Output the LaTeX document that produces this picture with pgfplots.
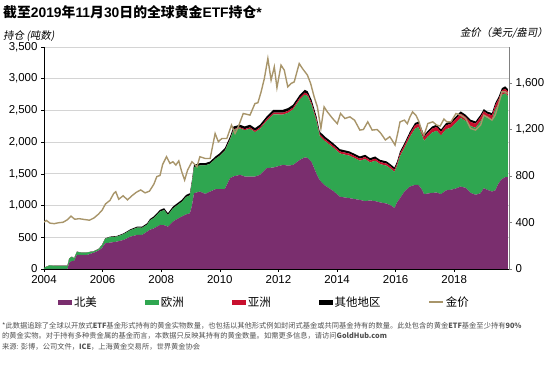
\documentclass[border=0pt]{standalone}
\usepackage{pgfplots}
\pgfplotsset{compat=1.18}
\usepackage{pgfplotstable}
\usepackage{fontspec}
\setmainfont{Liberation Sans}
\newfontfamily\cjk{Noto Sans CJK SC}
\newfontfamily\cjki[FakeSlant=0.2]{Noto Sans CJK SC}
\definecolor{naC}{HTML}{7A2E6E}
\definecolor{euC}{HTML}{2FA650}
\definecolor{asC}{HTML}{C8102E}
\definecolor{otC}{HTML}{000000}
\definecolor{goldC}{HTML}{A8956A}
\definecolor{gridC}{HTML}{D4D4D4}
\definecolor{noteC}{HTML}{505050}

\pgfplotstableread{
year NA EU AS OT
2004.00 0 20 0 2
2004.20 0 58 0 2
2004.35 0 50 0 2
2004.80 0 50 0 2
2004.86 100 63 0 2
2004.95 126 66 0 3
2005.03 130 37 0 3
2005.12 221 50 0 3
2005.30 221 36 0 3
2005.46 221 39 0 3
2005.69 255 22 0 3
2005.86 290 22 0 4
2005.98 330 44 0 5
2006.09 405 72 0 7
2006.26 416 87 0 8
2006.49 432 79 0 10
2006.72 458 93 0 12
2006.95 511 101 0 14
2007.18 537 115 0 16
2007.35 537 113 0 18
2007.52 589 112 0 20
2007.62 620 148 0 22
2007.75 640 165 0 25
2007.96 695 209 0 28
2008.10 690 240 0 28
2008.23 668 183 0 28
2008.40 747 207 0 30
2008.55 790 217 0 30
2008.70 826 231 0 32
2008.85 860 276 0 32
2008.98 879 284 0 32
2009.05 1000 366 0 34
2009.12 1195 412 0 35
2009.32 1221 412 0 35
2009.50 1184 449 0 35
2009.67 1221 439 0 35
2009.85 1258 480 0 36
2010.00 1258 528 2 38
2010.17 1258 603 4 40
2010.35 1432 609 8 40
2010.47 1460 733 12 42
2010.69 1484 733 15 42
2010.85 1458 729 18 42
2011.03 1458 754 20 42
2011.20 1458 699 22 42
2011.37 1484 724 24 42
2011.60 1590 745 26 44
2011.83 1600 837 28 45
2012.16 1642 793 30 45
2012.33 1630 832 30 45
2012.50 1640 875 30 45
2012.73 1720 950 32 45
2012.90 1760 989 32 45
2013.00 1750 973 32 45
2013.13 1690 901 32 45
2013.30 1500 828 32 45
2013.41 1400 694 32 42
2013.58 1320 698 32 40
2013.87 1230 684 32 38
2014.10 1140 681 32 36
2014.43 1116 670 32 35
2014.78 1089 618 32 35
2014.96 1070 663 32 35
2015.13 1080 600 32 35
2015.30 1070 637 32 35
2015.47 1050 604 32 35
2015.70 1030 597 34 34
2015.85 1000 574 34 34
2015.96 960 572 34 34
2016.05 1050 575 36 34
2016.15 1116 663 40 34
2016.30 1220 685 45 34
2016.49 1300 783 50 35
2016.66 1326 884 55 35
2016.78 1326 910 55 35
2016.90 1250 860 55 35
2016.97 1180 840 55 35
2017.10 1190 897 58 35
2017.25 1200 952 60 35
2017.40 1205 974 60 35
2017.55 1180 925 60 35
2017.72 1240 963 62 35
2017.89 1250 979 62 35
2018.06 1270 1035 65 35
2018.22 1300 1084 65 35
2018.39 1280 1052 65 35
2018.56 1200 1053 65 35
2018.73 1170 1056 65 35
2018.90 1195 1137 65 35
2019.01 1274 1147 65 35
2019.12 1250 1134 65 35
2019.29 1221 1137 65 35
2019.40 1240 1273 68 35
2019.52 1353 1260 70 38
2019.63 1420 1323 72 38
2019.74 1447 1322 72 38
2019.83 1447 1280 72 38
}\etfdata

\pgfplotstableread{
year price
2004.00 404
2004.08 418
2004.20 395
2004.35 390
2004.50 398
2004.65 402
2004.80 424
2004.92 455
2005.05 428
2005.20 433
2005.40 425
2005.55 420
2005.70 438
2005.85 470
2005.98 505
2006.10 560
2006.25 590
2006.38 650
2006.45 665
2006.55 600
2006.70 630
2006.85 595
2007.00 630
2007.15 660
2007.30 680
2007.45 655
2007.60 670
2007.75 730
2007.85 795
2007.96 805
2008.05 900
2008.18 966
2008.30 908
2008.40 923
2008.50 894
2008.60 930
2008.70 837
2008.80 765
2008.90 851
2009.05 923
2009.22 880
2009.32 966
2009.50 951
2009.67 951
2009.84 1166
2009.95 1095
2010.07 1123
2010.24 1123
2010.40 1238
2010.52 1166
2010.63 1223
2010.80 1338
2011.03 1324
2011.20 1424
2011.30 1430
2011.41 1524
2011.52 1639
2011.64 1811
2011.75 1625
2011.86 1739
2011.95 1560
2012.09 1754
2012.20 1711
2012.32 1567
2012.43 1596
2012.54 1610
2012.71 1768
2012.82 1725
2012.99 1668
2013.10 1596
2013.22 1481
2013.33 1395
2013.45 1210
2013.56 1395
2013.67 1352
2013.85 1295
2014.01 1250
2014.12 1338
2014.27 1295
2014.44 1309
2014.60 1280
2014.78 1195
2014.90 1200
2015.05 1266
2015.20 1195
2015.37 1200
2015.50 1166
2015.65 1110
2015.80 1138
2015.90 1100
2015.98 1066
2016.07 1166
2016.15 1266
2016.30 1281
2016.40 1250
2016.49 1309
2016.58 1352
2016.70 1320
2016.80 1266
2016.90 1180
2016.97 1152
2017.10 1252
2017.27 1266
2017.40 1238
2017.52 1230
2017.65 1290
2017.75 1266
2017.89 1266
2018.06 1338
2018.22 1324
2018.39 1295
2018.56 1209
2018.73 1195
2018.90 1238
2019.01 1324
2019.12 1309
2019.29 1281
2019.40 1324
2019.52 1424
2019.63 1524
2019.74 1524
2019.83 1510
}\golddata

\newcommand{\B}[1]{{\bfseries #1}}
\newcommand{\C}[1]{{\cjk\bfseries #1}}

\begin{document}
\begin{tikzpicture}
\useasboundingbox (0bp,0bp) rectangle (550bp,367bp);
% title
\node[anchor=base west,inner sep=0pt,font=\fontsize{13.9}{15}\selectfont] at (3bp,349bp)
  {\C{截至}\B{2019}\C{年}\B{11}\C{月}\B{30}\C{日的全球黄金}\B{ETF}\C{持仓}\B{*}};
\node[anchor=base west,inner sep=0pt,font=\fontsize{10.5}{12}\selectfont\cjki] at (3bp,327.5bp) {持仓 (吨数)};
\node[anchor=base east,inner sep=0pt,font=\fontsize{10.5}{12}\selectfont\cjki] at (548bp,330bp) {金价（美元/盎司）};

\begin{axis}[
  at={(44bp,98bp)}, anchor=south west,
  scale only axis, width=465bp, height=222bp,
  xmin=2004, xmax=2019.87,
  ymin=0, ymax=3500,
  stack plots=y,
  axis x line*=bottom, axis y line*=left,
  xtick={2004,2006,...,2018},
  ytick={0,500,...,3500},
  ymajorgrids, grid style={gridC, line width=0.8pt},
  tick align=outside, major tick length=3bp,
  tick style={black, line width=0.6pt},
  axis line style={black, line width=0.8pt, -},
  xticklabel style={font=\fontsize{11.5}{12}\selectfont},
  yticklabel style={font=\fontsize{11.5}{12}\selectfont},
  x tick label style={/pgf/number format/1000 sep={}},
  y tick label style={/pgf/number format/1000 sep={,}},
  /pgf/number format/assume math mode=true,
]
\addplot[fill=naC, draw=none] table[x=year,y=NA]{\etfdata} \closedcycle;
\addplot[fill=euC, draw=none] table[x=year,y=EU]{\etfdata} \closedcycle;
\addplot[fill=asC, draw=none] table[x=year,y=AS]{\etfdata} \closedcycle;
\addplot[fill=otC, draw=none] table[x=year,y=OT]{\etfdata} \closedcycle;
\end{axis}

\begin{axis}[
  at={(44bp,98bp)}, anchor=south west,
  scale only axis, width=465bp, height=222bp,
  xmin=2004, xmax=2019.87,
  ymin=0, ymax=1910,
  axis x line=none, axis y line*=right,
  ytick={0,400,...,1600},
  tick align=outside, major tick length=3bp,
  tick style={gray, line width=0.6pt},
  axis line style={gray, line width=0.8pt, -},
  yticklabel style={font=\fontsize{11.5}{12}\selectfont},
  y tick label style={/pgf/number format/1000 sep={,}},
  /pgf/number format/assume math mode=true,
  legend columns=5,
  legend style={at={(0.474,-0.149)}, anchor=center, draw=none, fill=none,
    font=\fontsize{11.5}{12}\selectfont\cjk,
    /tikz/every even column/.append style={column sep=46bp},
    inner sep=0pt},
  legend cell align=left,
]
\addlegendimage{area legend, fill=naC, draw=none, legend image code/.code={\fill[naC] (0bp,-2.5bp) rectangle (14bp,2.5bp);}}
\addlegendentry{北美}
\addlegendimage{area legend, fill=euC, draw=none, legend image code/.code={\fill[euC] (0bp,-2.5bp) rectangle (14bp,2.5bp);}}
\addlegendentry{欧洲}
\addlegendimage{area legend, fill=asC, draw=none, legend image code/.code={\fill[asC] (0bp,-2.5bp) rectangle (14bp,2.5bp);}}
\addlegendentry{亚洲}
\addlegendimage{area legend, fill=otC, draw=none, legend image code/.code={\fill[otC] (0bp,-2.5bp) rectangle (14bp,2.5bp);}}
\addlegendentry{其他地区}
\addplot[goldC, line width=1.4pt, legend image code/.code={\draw[goldC, line width=1.4pt] (0bp,0bp) -- (14bp,0bp);}] table[x=year,y=price]{\golddata};
\addlegendentry{金价}
\end{axis}

% footnote
\node[anchor=north west, inner sep=0pt, align=left, text=noteC,
  font=\fontsize{7.3}{10.4}\selectfont\cjk] at (2bp,45bp)
{*此数据追踪了全球以开放式{\bfseries ETF}基金形式持有的黄金实物数量，也包括以其他形式例如封闭式基金或共同基金持有的数量。此处包含的黄金{\bfseries ETF}基金至少持有{\bfseries 90\%}\\
的黄金实物。对于持有多种贵金属的基金而言，本数据只反映其持有的黄金数量。如需更多信息，请访问{\bfseries GoldHub.com}\\
来源: 彭博，公司文件，{\bfseries ICE}，上海黄金交易所，世界黄金协会};
\end{tikzpicture}
\end{document}
